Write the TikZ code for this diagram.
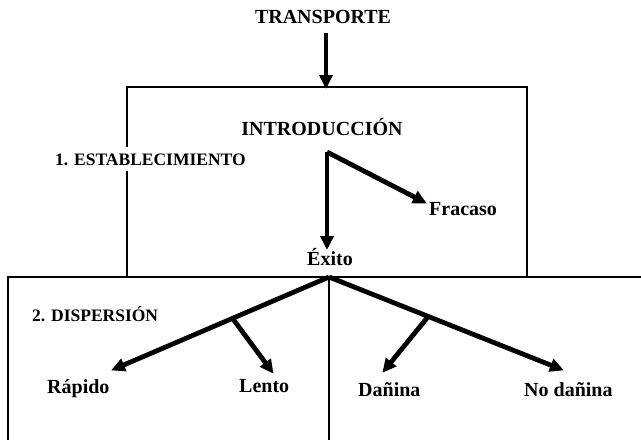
\documentclass[tikz,border=0pt]{standalone}
\usepackage{fontspec}
\setmainfont{Liberation Serif}
\usetikzlibrary{arrows.meta}
\begin{document}
\begin{tikzpicture}[x=1pt,y=-1pt,
  lbl/.style={font=\bfseries\fontsize{20}{22}\selectfont,inner sep=0pt,anchor=base west},
  sec/.style={font=\bfseries\fontsize{17.5}{20}\selectfont,inner xsep=1pt,inner ysep=6pt,fill=white,anchor=base west},
  arr/.style={line width=4.8pt,-{Triangle[length=14pt,width=13pt]},shorten >=-1pt},
  bline/.style={line width=1.8pt}]
\useasboundingbox (0,0) rectangle (641,440);
% coordinates
\coordinate (tstart) at (326,33);
\coordinate (boxtop) at (326,88);
\coordinate (v1) at (327,152);
\coordinate (texi) at (327,249);
\coordinate (tfra) at (426,203);
\coordinate (v2) at (329,277);
\coordinate (trap) at (112,370);
\coordinate (tnod) at (563,370);
\coordinate (bl) at (233,319);
\coordinate (br) at (427,318);
\coordinate (tlen) at (273,373);
\coordinate (tdan) at (383,372);
% boxes
\draw[bline] (127,277) -- (127,87) -- (527,87) -- (527,277);
\draw[bline] (641,277) -- (8,277) -- (8,440);
\draw[bline] (v2) -- (329,440);
% texts
\node[lbl,anchor=base] (tr) at (323,23) {TRANSPORTE};
\node[lbl,anchor=base] (intro) at (322,135) {INTRODUCCIÓN};
\node[sec] (est) at (54,165) {1. ESTABLECIMIENTO};
\node[lbl] (fra) at (429,215) {Fracaso};
\node[lbl] (exi) at (307,265) {Éxito};
\node[sec] (dis) at (31,321) {2. DISPERSIÓN};
\node[lbl] (rap) at (47,393) {Rápido};
\node[lbl] (len) at (239,392) {Lento};
\node[lbl] (dan) at (358,396) {Dañina};
\node[lbl] (nod) at (524,396) {No dañina};
% arrows
\draw[arr] (tstart) -- (boxtop);
\draw[arr] (v1) -- (texi);
\draw[arr] (v1) -- (tfra);
\draw[arr] (v2) -- (trap);
\draw[arr] (v2) -- (tnod);
\draw[arr] (bl) -- (tlen);
\draw[arr] (br) -- (tdan);
\end{tikzpicture}
\end{document}
